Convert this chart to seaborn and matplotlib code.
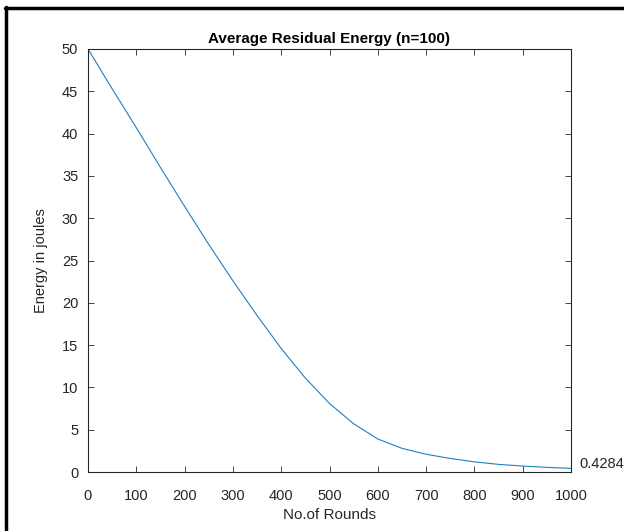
import pandas as pd
import numpy as np
import matplotlib
matplotlib.use('Agg')
import matplotlib.pyplot as plt
import seaborn as sns
from matplotlib.lines import Line2D

sns.set_style('ticks')
plt.rcParams['font.family'] = ['Liberation Sans', 'DejaVu Sans']

# values
rounds = [0, 50, 100, 150, 200, 250, 300, 350, 400, 450, 500,
          550, 600, 650, 700, 750, 800, 850, 900, 950, 1000]
energy = [50.0, 45.3, 40.7, 36.0, 31.4, 26.9, 22.6, 18.5, 14.6, 11.1, 8.1,
          5.7, 3.9, 2.8, 2.1, 1.6, 1.2, 0.9, 0.7, 0.55, 0.4284]
x_ticks = [0, 100, 200, 300, 400, 500, 600, 700, 800, 900, 1000]
y_ticks = [0, 5, 10, 15, 20, 25, 30, 35, 40, 45, 50]

df = pd.DataFrame({'rounds': rounds, 'energy': energy})

fig = plt.figure(figsize=(6.24, 5.31), dpi=100)
ax = fig.add_axes([88/624, 1-472/531, (571-88)/624, (472-49)/531])

sns.lineplot(data=df, x='rounds', y='energy', ax=ax, color='#1f7fc0', linewidth=0.8)

ax.set_xlim(0, 1000)
ax.set_ylim(0, 50)
ax.set_xticks(x_ticks)
ax.set_yticks(y_ticks)

txt = '#262626'
for s in ax.spines.values():
    s.set_visible(True)
    s.set_color(txt)
    s.set_linewidth(0.8)
ax.tick_params(direction='in', length=4, width=0.6, colors=txt, labelsize=10.5,
               top=True, right=True, pad=7)
ax.tick_params(axis='x', pad=12)

ax.set_title('Average Residual Energy (n=100)', fontsize=11, fontweight='bold', color='black', pad=4)
ax.set_xlabel('No.of Rounds', fontsize=11, color=txt, labelpad=4)
ax.set_ylabel('Energy in joules', fontsize=10.5, color=txt, labelpad=10)

ax.annotate('0.4284', xy=(1000, energy[-1]), xytext=(6, 3), textcoords='offset points',
            va='center', ha='left', fontsize=10.5, color=txt, annotation_clip=False)

# black frame at top and left of the figure
fig.add_artist(Line2D([5/624, 1], [1-7.5/531, 1-7.5/531], transform=fig.transFigure, color='black', linewidth=2.5))
fig.add_artist(Line2D([6/624, 6/624], [0, 1-6.5/531], transform=fig.transFigure, color='black', linewidth=2.5))

fig.savefig('out.png', dpi=100)
